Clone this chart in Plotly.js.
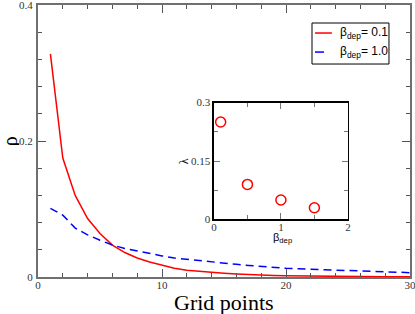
<!DOCTYPE html>
<html><head><meta charset="utf-8">
<script src="https://cdn.plot.ly/plotly-3.0.1.min.js"></script>
<style>html,body{margin:0;padding:0;background:#fff}</style>
</head><body><div id="chart" style="width:415px;height:314px"></div>
<script>
const gridPoints = [1,2,3,4,5,6,7,8,9,10,11,12,13,14,15,16,17,18,19,20,21,22,23,24,25,26,27,28,29,30];
const rhoBeta01 = [0.328,0.175,0.120,0.086,0.064,0.047,0.036,0.028,0.022,0.017,0.013,0.010,0.0083,0.0068,0.0055,0.0044,0.0034,0.0026,0.0021,0.0017,0.0014,0.0011,0.0009,0.0007,0.0006,0.0005,0.0004,0.0003,0.0003,0.0002];
const rhoBeta10 = [0.101,0.091,0.072,0.062,0.054,0.047,0.042,0.038,0.034,0.031,0.028,0.026,0.024,0.0216,0.020,0.0186,0.017,0.0152,0.014,0.0127,0.012,0.0113,0.0106,0.0099,0.0093,0.0087,0.0080,0.0075,0.0069,0.0064];
const betaDep = [0.1,0.5,1.0,1.5];
const lambdaVals = [0.25,0.09,0.05,0.03];
const seriesNames = ['β<sub>dep</sub>= 0.1','β<sub>dep</sub>= 1.0'];
const seriesColors = ['#ff0000','#0000ff'];
const seriesDash = ['solid','8px,5px'];

const serif = 'Liberation Serif, Times New Roman, serif';
const sans = 'Liberation Sans, Arial, sans-serif';

const traces = [
  {x: gridPoints, y: rhoBeta01, type:'scatter', mode:'lines', name: seriesNames[0],
   line:{color:seriesColors[0], width:1.5, dash:seriesDash[0]}, xaxis:'x', yaxis:'y'},
  {x: gridPoints, y: rhoBeta10, type:'scatter', mode:'lines', name: seriesNames[1],
   line:{color:seriesColors[1], width:1.5, dash:seriesDash[1]}, xaxis:'x', yaxis:'y'},
  {x: betaDep, y: lambdaVals, type:'scatter', mode:'markers',
   marker:{symbol:'circle-open', size:10, color:'#ff0000', line:{width:1.5, color:'#ff0000'}},
   xaxis:'x2', yaxis:'y2'}
];

const legBox = {x0:0.7366, x1:0.9435, y0:0.783, y1:0.9338};
const legRows = [0.897, 0.827];
const shapes = [
  {type:'rect', xref:'paper', yref:'paper', x0:legBox.x0, x1:legBox.x1, y0:legBox.y0, y1:legBox.y1,
   line:{color:'#000', width:1}, fillcolor:'#fff'}
];
const annotations = [];
seriesNames.forEach((n,i)=>{
  shapes.push({type:'line', xref:'paper', yref:'paper', x0:0.7446, x1:0.790, y0:legRows[i], y1:legRows[i],
    line:{color:seriesColors[i], width:1.5, dash:i===1?'dash':'solid'}});
  annotations.push({xref:'paper', yref:'paper', x:0.806, y:legRows[i], xanchor:'left', yanchor:'middle',
    text:n, showarrow:false, font:{family:sans, size:12, color:'#000'}});
});
annotations.push(
  {xref:'paper', yref:'paper', x:0.5, y:-0.092, xanchor:'center', yanchor:'middle', text:'Grid points',
   showarrow:false, font:{family:serif, size:22, color:'#000'}},
  {xref:'paper', yref:'paper', x:-0.1016, y:0.5, xanchor:'left', yanchor:'middle', text:'ρ', textangle:-90,
   height:18, borderpad:0, showarrow:false, font:{family:serif, size:20, color:'#000'}},
  {xref:'paper', yref:'paper', x:0.393, y:0.426, xanchor:'center', yanchor:'middle', text:'λ', textangle:-90,
   showarrow:false, font:{family:serif, size:12, color:'#000'}},
  {xref:'paper', yref:'paper', x:0.658, y:0.145, xanchor:'center', yanchor:'middle', text:'β<sub>dep</sub>',
   showarrow:false, font:{family:sans, size:11, color:'#000'}}
);

const layout = {
  width:415, height:314,
  margin:{l:38, r:5, t:5, b:37},
  paper_bgcolor:'#fff', plot_bgcolor:'#fff',
  showlegend:false,
  shapes: shapes,
  annotations: annotations,
  xaxis:{domain:[0,1], range:[0,30], tickvals:[0,10,20,30], ticktext:['0','10','20','30'],
    ticks:'inside', ticklen:8, tickwidth:1, tickcolor:'#555',
    minor:{dtick:2, tick0:0, ticks:'inside', ticklen:4, tickcolor:'#555'},
    showline:true, linecolor:'#707070', linewidth:2, mirror:'ticks', showgrid:false, zeroline:false,
    tickfont:{family:serif, size:11, color:'#333'}, ticklabeloverflow:'allow', ticklabelstandoff:-3},
  yaxis:{domain:[0,1], range:[0,0.4], tickvals:[0,0.2,0.4], ticktext:['0','0.2','0.4'],
    ticks:'inside', ticklen:8, tickwidth:1, tickcolor:'#555',
    minor:{dtick:0.04, tick0:0, ticks:'inside', ticklen:4, tickcolor:'#555'},
    showline:true, linecolor:'#707070', linewidth:2, mirror:'ticks', showgrid:false, zeroline:false,
    tickfont:{family:serif, size:11, color:'#333'}, ticklabeloverflow:'allow', ticklabelstandoff:1},
  xaxis2:{domain:[0.473,0.833], anchor:'y2', range:[0,2], tickvals:[0,1,2], ticktext:['0','1','2'],
    ticks:'inside', ticklen:6, tickwidth:1, tickcolor:'#777',
    minor:{dtick:0.5, tick0:0, ticks:'inside', ticklen:4, tickcolor:'#777'},
    showline:true, linecolor:'#000', linewidth:1.5, mirror:'ticks', showgrid:false, zeroline:false,
    tickfont:{family:serif, size:11, color:'#333'}, ticklabelstandoff:-3},
  yaxis2:{domain:[0.2114,0.6415], anchor:'x2', range:[0,0.3], tickvals:[0,0.15,0.3], ticktext:['0','0.15','0.3'],
    ticks:'inside', ticklen:6, tickwidth:1, tickcolor:'#777',
    minor:{dtick:0.075, tick0:0, ticks:'inside', ticklen:4, tickcolor:'#777'},
    showline:true, linecolor:'#000', linewidth:1.5, mirror:'ticks', showgrid:false, zeroline:false,
    tickfont:{family:serif, size:11, color:'#333'}}
};

Plotly.newPlot('chart', traces, layout, {staticPlot:true, displayModeBar:false});
</script>
</body></html>
